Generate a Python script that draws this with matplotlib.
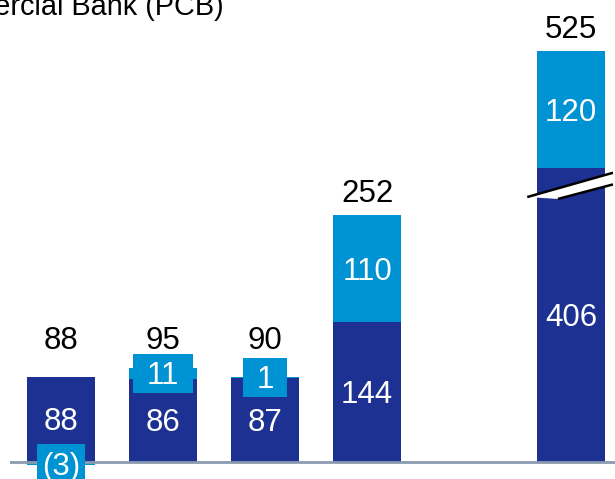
import matplotlib
matplotlib.use("Agg")
import matplotlib.pyplot as plt
from matplotlib.patches import Rectangle

# ---- data ----
positions = [0, 1, 2, 3, 5]
base_values = [88, 86, 87, 144, 406]
top_values = [-3, 11, 1, 110, 120]
totals = [88, 95, 90, 252, 525]
title = "Private & Commercial Bank (PCB)"

DARK = "#1c3192"
LIGHT = "#0093d3"
AXIS = "#8a9bb0"
plt.rcParams["font.family"] = ["Liberation Sans", "DejaVu Sans"]

BREAK_CAP = 303   # displayed height of the broken (truncated) dark bar
SMALL = 15        # segments smaller than this get a boxed label
LABEL_FLOOR = 103
LABEL_GAP = 13.8
FS = 22.5
HALF_DIGIT = 8.0  # points: half of digit height, to center digits

fig = plt.figure(figsize=(6.15, 4.79), dpi=100)
ax = fig.add_axes([10 / 615, 0, 605 / 615, 1])
ax.set_xlim(-0.5, 5.43)
ax.set_ylim(-17.5, 476)
ax.axis("off")

width = 0.66

def fmt(v):
    return f"({abs(v)})" if v < 0 else f"{v}"

def centered(x, y, s):
    return ax.annotate(s, xy=(x, y), xytext=(0, -HALF_DIGIT),
                       textcoords="offset points", ha="center", va="baseline",
                       color="white", fontsize=FS, zorder=6)

boxed_texts = []
for x, b, t, tot in zip(positions, base_values, top_values, totals):
    b_disp = min(b, BREAK_CAP)
    ax.bar(x, b_disp, width=width, color=DARK, zorder=2)
    if t >= 0:
        ax.bar(x, t, bottom=b_disp, width=width, color=LIGHT, zorder=2)
        t_center = b_disp + t / 2
        top = b_disp + t
    else:
        ax.bar(x, t, bottom=0, width=width, color=LIGHT, zorder=2)
        t_center = t / 2
        top = b_disp
    centered(x, b_disp / 2, fmt(b))
    tt = centered(x, t_center, fmt(t))
    if abs(t) < SMALL:
        boxed_texts.append((tt, x, t_center, t < 0))
    ax.text(x, max(top, LABEL_FLOOR) + LABEL_GAP, fmt(tot), ha="center",
            va="baseline", color="black", fontsize=FS, zorder=5)

    if b > BREAK_CAP:
        c = x
        l1 = ([c - 0.43, c + 0.41], [BREAK_CAP - 30, BREAK_CAP - 5])
        l2 = ([c - 0.13, c + 0.41], [BREAK_CAP - 32, BREAK_CAP - 17])
        ax.fill([l1[0][0], l1[0][1], l2[0][1], l2[0][0]],
                [l1[1][0], l1[1][1], l2[1][1], l2[1][0]],
                color="white", zorder=3, lw=0)
        ax.plot(*l1, color="black", lw=1.8, zorder=4, solid_capstyle="butt")
        ax.plot(*l2, color="black", lw=1.8, zorder=4, solid_capstyle="butt")

ax.axhline(0, color=AXIS, lw=2, zorder=4)

fig.text(224 / 615, (479 - 15) / 479, title, ha="right", va="baseline",
         fontsize=20.8, color="black")

# boxes behind small labels (pixel padding)
fig.canvas.draw()
r = fig.canvas.get_renderer()
inv = ax.transData.inverted()
for tt, x, yc, neg in boxed_texts:
    bb = tt.get_window_extent(r)
    padx = 5 if neg else 13.5
    x0 = bb.x0 - padx
    x1 = bb.x1 + padx
    cy = ax.transData.transform((x, yc))[1]
    y0 = cy - 19.5
    y1 = cy + 19.5
    (dx0, dy0) = inv.transform((x0, y0))
    (dx1, dy1) = inv.transform((x1, y1))
    ax.add_patch(Rectangle((dx0, dy0), dx1 - dx0, dy1 - dy0, fc=LIGHT,
                           ec="none", zorder=5))

fig.savefig("out.png", dpi=100)
